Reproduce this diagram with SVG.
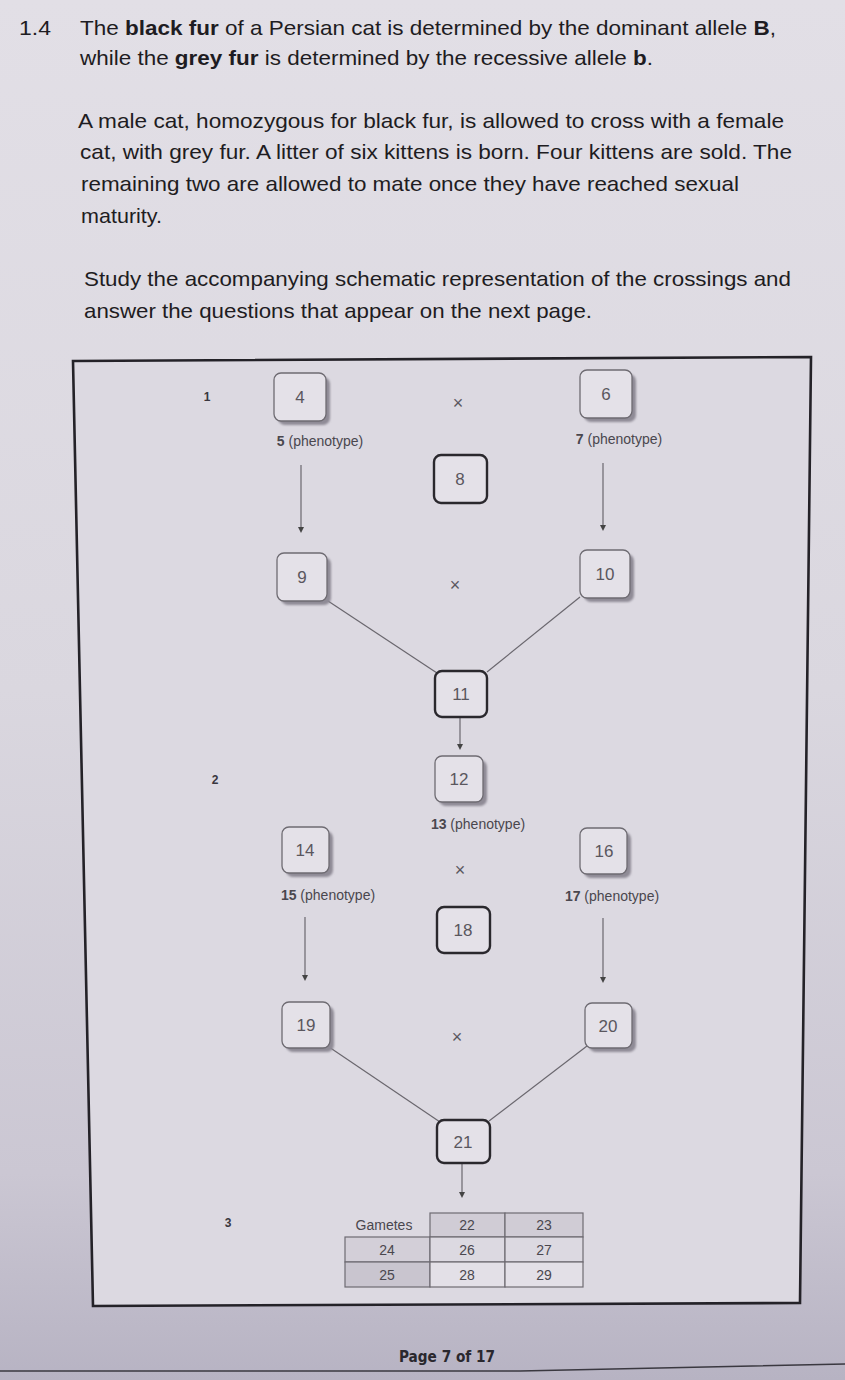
<svg xmlns="http://www.w3.org/2000/svg" width="845" height="1380" viewBox="0 0 845 1380">
<defs>
<linearGradient id="bg" x1="0" y1="0" x2="0" y2="1">
<stop offset="0" stop-color="#e2dfe6"/>
<stop offset="0.5" stop-color="#dad7df"/>
<stop offset="0.85" stop-color="#cbc7d3"/>
<stop offset="1" stop-color="#b7b3c3"/>
</linearGradient>
<filter id="blur" x="-20%" y="-20%" width="140%" height="140%"><feGaussianBlur stdDeviation="1.3"/></filter>
<marker id="ah" viewBox="0 0 6 6" refX="3" refY="3" markerWidth="6" markerHeight="6" orient="auto" markerUnits="userSpaceOnUse">
<path d="M0,0 L6,3 L0,6 z" fill="#444"/>
</marker>
</defs>
<style>
.body{font-family:"Liberation Sans",Arial,sans-serif;font-size:21px;fill:#1e1c22}
.b{font-weight:bold}
.box{fill:#e4e1e8;stroke:#6e6b72;stroke-width:1.3}
.shadow{fill:#8f8b96;filter:url(#blur)}
.thick{fill:#e4e1e8;stroke:#2a282d;stroke-width:2.4}
.nt{font-family:"Liberation Sans",Arial,sans-serif;font-size:17px;fill:#5a575e;text-anchor:middle}
.lbl{font-family:"Liberation Sans",Arial,sans-serif;font-size:14px;fill:#4a474e;text-anchor:middle}
.num{font-family:"Liberation Sans",Arial,sans-serif;font-size:12px;font-weight:bold;fill:#3a373e;text-anchor:middle}
.x{font-family:"Liberation Sans",Arial,sans-serif;font-size:18px;fill:#5a575e;text-anchor:middle}
.conn{stroke:#6a676e;stroke-width:1.2;fill:none}
.cell{stroke:#6e6b72;stroke-width:1.2}
.ct{font-family:"Liberation Sans",Arial,sans-serif;font-size:14px;fill:#4a474e;text-anchor:middle}
</style>
<rect x="0" y="0" width="845" height="1380" fill="url(#bg)"/>

<g id="intro">
<text class="body" x="19" y="35" textLength="32" lengthAdjust="spacingAndGlyphs">1.4</text>
<text class="body" x="80" y="35" textLength="696" lengthAdjust="spacingAndGlyphs">The <tspan class="b">black fur</tspan> of a Persian cat is determined by the dominant allele <tspan class="b">B</tspan>,</text>
<text class="body" x="80" y="65" textLength="573" lengthAdjust="spacingAndGlyphs">while the <tspan class="b">grey fur</tspan> is determined by the recessive allele <tspan class="b">b</tspan>.</text>
<text class="body" x="78" y="128" textLength="706" lengthAdjust="spacingAndGlyphs">A male cat, homozygous for black fur, is allowed to cross with a female</text>
<text class="body" x="80" y="159" textLength="712" lengthAdjust="spacingAndGlyphs">cat, with grey fur. A litter of six kittens is born. Four kittens are sold. The</text>
<text class="body" x="81" y="191" textLength="658" lengthAdjust="spacingAndGlyphs">remaining two are allowed to mate once they have reached sexual</text>
<text class="body" x="81" y="223" textLength="81" lengthAdjust="spacingAndGlyphs">maturity.</text>
<text class="body" x="84" y="286" textLength="707" lengthAdjust="spacingAndGlyphs">Study the accompanying schematic representation of the crossings and</text>
<text class="body" x="84" y="318" textLength="508" lengthAdjust="spacingAndGlyphs">answer the questions that appear on the next page.</text>
</g>

<g id="frame">
<path d="M73,361 L811,357 L800,1303 L93,1306 Z" fill="#dcd9e1" stroke="#242228" stroke-width="2.6"/>
</g>

<g id="connectors">
<line class="conn" x1="301" y1="465" x2="301" y2="530" marker-end="url(#ah)"/>
<line class="conn" x1="603" y1="463" x2="603" y2="528" marker-end="url(#ah)"/>
<line class="conn" x1="325" y1="599" x2="437" y2="673"/>
<line class="conn" x1="580" y1="597" x2="487" y2="672"/>
<line class="conn" x1="460" y1="717" x2="460" y2="747" marker-end="url(#ah)"/>
<line class="conn" x1="305" y1="917" x2="305" y2="978" marker-end="url(#ah)"/>
<line class="conn" x1="603" y1="918" x2="603" y2="980" marker-end="url(#ah)"/>
<line class="conn" x1="329" y1="1047" x2="440" y2="1122"/>
<line class="conn" x1="587" y1="1046" x2="489" y2="1121"/>
<line class="conn" x1="462" y1="1163" x2="462" y2="1195" marker-end="url(#ah)"/>
</g>

<g id="generation-labels">
<text class="num" x="207" y="401">1</text>
<text class="num" x="215" y="784">2</text>
<text class="num" x="228" y="1227">3</text>
</g>

<g id="cross-signs">
<text class="x" x="458" y="409">×</text>
<text class="x" x="455" y="591">×</text>
<text class="x" x="460" y="876">×</text>
<text class="x" x="457" y="1043">×</text>
</g>

<g id="node-4"><rect class="shadow" x="278" y="377" width="52" height="48" rx="7"/><rect class="box" x="274" y="373" width="52" height="48" rx="7"/><text class="nt" x="300" y="403">4</text></g>
<g id="node-5"><text class="lbl" x="320" y="446"><tspan font-weight="bold">5</tspan> (phenotype)</text></g>
<g id="node-6"><rect class="shadow" x="584" y="374" width="52" height="48" rx="7"/><rect class="box" x="580" y="370" width="52" height="48" rx="7"/><text class="nt" x="606" y="400">6</text></g>
<g id="node-7"><text class="lbl" x="619" y="444"><tspan font-weight="bold">7</tspan> (phenotype)</text></g>
<g id="node-8"><rect class="thick" x="434" y="455" width="53" height="48" rx="7"/><text class="nt" x="460" y="485">8</text></g>
<g id="node-9"><rect class="shadow" x="281" y="557" width="50" height="48" rx="7"/><rect class="box" x="277" y="553" width="50" height="48" rx="7"/><text class="nt" x="302" y="583">9</text></g>
<g id="node-10"><rect class="shadow" x="584" y="554" width="50" height="48" rx="7"/><rect class="box" x="580" y="550" width="50" height="48" rx="7"/><text class="nt" x="605" y="580">10</text></g>
<g id="node-11"><rect class="thick" x="435" y="671" width="52" height="46" rx="7"/><text class="nt" x="461" y="700">11</text></g>
<g id="node-12"><rect class="shadow" x="439" y="760" width="48" height="46" rx="7"/><rect class="box" x="435" y="756" width="48" height="46" rx="7"/><text class="nt" x="459" y="785">12</text></g>
<g id="node-13"><text class="lbl" x="478" y="829"><tspan font-weight="bold">13</tspan> (phenotype)</text></g>
<g id="node-14"><rect class="shadow" x="286" y="831" width="47" height="46" rx="7"/><rect class="box" x="282" y="827" width="47" height="46" rx="7"/><text class="nt" x="305" y="856">14</text></g>
<g id="node-15"><text class="lbl" x="328" y="900"><tspan font-weight="bold">15</tspan> (phenotype)</text></g>
<g id="node-16"><rect class="shadow" x="584" y="832" width="47" height="46" rx="7"/><rect class="box" x="580" y="828" width="47" height="46" rx="7"/><text class="nt" x="604" y="857">16</text></g>
<g id="node-17"><text class="lbl" x="612" y="901"><tspan font-weight="bold">17</tspan> (phenotype)</text></g>
<g id="node-18"><rect class="thick" x="437" y="907" width="53" height="46" rx="7"/><text class="nt" x="463" y="936">18</text></g>
<g id="node-19"><rect class="shadow" x="286" y="1006" width="48" height="46" rx="7"/><rect class="box" x="282" y="1002" width="48" height="46" rx="7"/><text class="nt" x="306" y="1031">19</text></g>
<g id="node-20"><rect class="shadow" x="589" y="1007" width="47" height="45" rx="7"/><rect class="box" x="585" y="1003" width="47" height="45" rx="7"/><text class="nt" x="608" y="1032">20</text></g>
<g id="node-21"><rect class="thick" x="437" y="1120" width="53" height="43" rx="7"/><text class="nt" x="463" y="1148">21</text></g>

<g id="gamete-table">
<text class="ct" x="384" y="1230">Gametes</text>
<rect class="cell" x="430" y="1213" width="75" height="24" fill="#d0ccd5"/>
<rect class="cell" x="505" y="1213" width="78" height="24" fill="#d0ccd5"/>
<rect class="cell" x="345" y="1237" width="85" height="25" fill="#d3cfd8"/>
<rect class="cell" x="430" y="1237" width="75" height="25" fill="#dcd9e1"/>
<rect class="cell" x="505" y="1237" width="78" height="25" fill="#dcd9e1"/>
<rect class="cell" x="345" y="1262" width="85" height="25" fill="#c9c5cf"/>
<rect class="cell" x="430" y="1262" width="75" height="25" fill="#e3e0e7"/>
<rect class="cell" x="505" y="1262" width="78" height="25" fill="#e3e0e7"/>
<text class="ct" x="467" y="1230">22</text>
<text class="ct" x="544" y="1230">23</text>
<text class="ct" x="387" y="1255">24</text>
<text class="ct" x="467" y="1255">26</text>
<text class="ct" x="544" y="1255">27</text>
<text class="ct" x="387" y="1280">25</text>
<text class="ct" x="467" y="1280">28</text>
<text class="ct" x="544" y="1280">29</text>
</g>

<g id="footer">
<text x="447" y="1362" font-family="'DejaVu Sans Condensed','DejaVu Sans',sans-serif" font-size="15" font-weight="bold" fill="#2a282e" text-anchor="middle" textLength="96" lengthAdjust="spacingAndGlyphs">Page 7 of 17</text>
<path d="M0,1371 L520,1371 L845,1364" fill="none" stroke="#3a3840" stroke-width="1.6"/>
</g>
</svg>
